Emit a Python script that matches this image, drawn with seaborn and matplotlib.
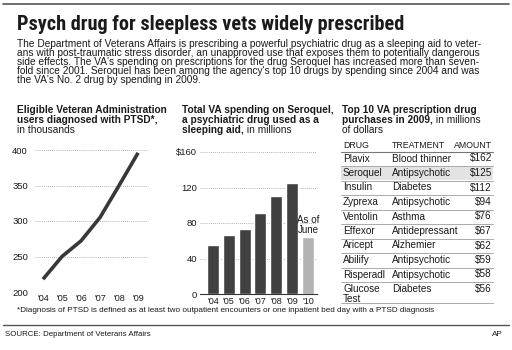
import matplotlib
matplotlib.use("Agg")
import matplotlib.pyplot as plt
import seaborn as sns
import pandas as pd
from matplotlib.lines import Line2D
from matplotlib.patches import Rectangle
from matplotlib import font_manager

# ---------------- data ----------------
line_years = ["'04", "'05", "'06", "'07", "'08", "'09"]
ptsd_thousands = [218, 250, 272, 305, 350, 396]

bar_years = ["'04", "'05", "'06", "'07", "'08", "'09", "'10"]
seroquel_spend = [55, 67, 73, 91, 110, 125, 64]

drugs = ["Plavix", "Seroquel", "Insulin", "Zyprexa", "Ventolin", "Effexor",
         "Aricept", "Abilify", "Risperadl", "Glucose\nTest"]
treatments = ["Blood thinner", "Antipsychotic", "Diabetes", "Antipsychotic", "Asthma",
              "Antidepressant", "Alzhemier", "Antipsychotic", "Antipsychotic", "Diabetes"]
amounts = ["$162", "$125", "$112", "$94", "$76", "$67", "$62", "$59", "$58", "$56"]

title = "Psych drug for sleepless vets widely prescribed"
body = ["The Department of Veterans Affairs is prescribing a powerful psychiatric drug as a sleeping aid to veter-",
        "ans with post-traumatic stress disorder, an unapproved use that exposes them to potentially dangerous",
        "side effects. The VA's spending on prescriptions for the drug Seroquel has increased more than seven-",
        "fold since 2001. Seroquel has been among the agency's top 10 drugs by spending since 2004 and was",
        "the VA's No. 2 drug by spending in 2009."]
footnote = "*Diagnosis of PTSD is defined as at least two outpatient encounters or one inpatient bed day with a PTSD diagnosis"
source = "SOURCE: Department of Veterans Affairs"

sns.set_theme(style="white")
names = {f.name for f in font_manager.fontManager.ttflist}
BASE = "Liberation Sans" if "Liberation Sans" in names else "DejaVu Sans"
NARROW = BASE
for cand in ["Liberation Sans Narrow", "Roboto Condensed", "Open Sans Condensed",
             "DejaVu Sans Condensed", "Noto Sans Condensed"]:
    if cand in names:
        NARROW = cand
        break
plt.rcParams['font.family'] = [BASE, 'DejaVu Sans']

W, H = 512, 350
fig = plt.figure(figsize=(W / 100, H / 100), dpi=100)
fig.patch.set_facecolor("white")
renderer = fig.canvas.get_renderer()

def pax(x0, y0, x1, y1):
    return fig.add_axes([x0 / W, 1 - y1 / H, (x1 - x0) / W, (y1 - y0) / H])

ov = fig.add_axes([0, 0, 1, 1], zorder=-1)
ov.set_xlim(0, W)
ov.set_ylim(H, 0)
ov.axis("off")

DARK = "#1a1a1a"

def width_px(t):
    return t.get_window_extent(renderer=renderer).width

def fit_size(s, target_w, size, **kw):
    probe = ov.text(0, 0, s, fontsize=size, **kw)
    w = width_px(probe)
    probe.remove()
    return size * target_w / w if w > 0 else size

# header
ov.add_line(Line2D([3, 509], [4, 4], color="#555555", lw=1.2))
ts = fit_size(title, 389, 15.5, fontweight="bold", family=[NARROW, BASE])
ov.text(17, 25, title, fontsize=ts, fontweight="bold", family=[NARROW, BASE],
        va="center", ha="left", color=DARK)
bs = fit_size(body[0], 464, 7.2)
for i, ln in enumerate(body):
    ov.text(17, 44 + i * 9, ln, fontsize=bs, va="center", ha="left", color=DARK)

def mixed(x, y, parts, size=7.25):
    for s, bold in parts:
        t = ov.text(x, y, s, fontsize=size, fontweight="bold" if bold else "normal",
                    va="center", ha="left", color=DARK)
        x += width_px(t)

mixed(17, 110, [("Eligible Veteran Administration", True)])
mixed(17, 120, [("users diagnosed with PTSD*,", True)])
mixed(17, 130, [("in thousands", False)])
mixed(182, 110, [("Total VA spending on Seroquel,", True)])
mixed(182, 120, [("a psychiatric drug used as a", True)])
mixed(182, 130, [("sleeping aid,", True), (" in millions", False)])
mixed(342, 110, [("Top 10 VA prescription drug", True)])
mixed(342, 120, [("purchases in 2009,", True), (" in millions", False)])
mixed(342, 130, [("of dollars", False)])

# ---------------- line chart ----------------
ax1 = pax(35, 150, 147, 292)
df_line = pd.DataFrame({"year": list(range(len(line_years))), "val": ptsd_thousands})
sns.lineplot(data=df_line, x="year", y="val", ax=ax1, color="#383838", lw=2.6,
             solid_capstyle="butt", clip_on=False)
ax1.set_xlim(-0.42, 5.47)
ax1.set_ylim(200, 400)
ax1.set_yticks([200, 250, 300, 350, 400])
ax1.set_xticks(range(len(line_years)))
ax1.set_xticklabels(line_years)
ax1.set_xlabel("")
ax1.set_ylabel("")
for s in ax1.spines.values():
    s.set_visible(False)
ax1.grid(axis="y", color="#999999", lw=0.6, ls=(0, (1, 1.5)))
ax1.set_axisbelow(True)
ax1.tick_params(axis="y", length=0, pad=5, labelsize=6.8, colors=DARK)
ax1.tick_params(axis="x", length=3, width=0.6, direction="in", color="#888888",
                pad=1.5, labelsize=6.5, labelcolor=DARK)

# ---------------- bar chart ----------------
ax2 = pax(200, 152, 317, 294)
df_bar = pd.DataFrame({"year": bar_years, "val": seroquel_spend})
cols = ["#404040"] * (len(bar_years) - 1) + ["#b3b3b3"]
sns.barplot(data=df_bar, x="year", y="val", hue="year", palette=cols, legend=False,
            ax=ax2, width=0.76, saturation=1)
ax2.set_xlim(-0.82, 6.57)
ax2.set_ylim(0, 160)
ax2.set_yticks([0, 40, 80, 120, 160])
ax2.set_yticklabels(["0", "40", "80", "120", "$160"])
ax2.set_xlabel("")
ax2.set_ylabel("")
for k, s in ax2.spines.items():
    s.set_visible(k == "bottom")
ax2.spines["bottom"].set_color("#333333")
ax2.spines["bottom"].set_linewidth(0.8)
ax2.grid(axis="y", color="#999999", lw=0.6, ls=(0, (1, 1.5)))
ax2.set_axisbelow(True)
ax2.tick_params(axis="y", length=0, pad=2, labelsize=6.8, colors=DARK)
ax2.tick_params(axis="x", length=0, pad=2, labelsize=6.5, colors=DARK)
ax2.text(6, seroquel_spend[-1] + 3, "As of\nJune", ha="center", va="bottom",
         fontsize=7.0, color=DARK, linespacing=1.0)

# ---------------- table ----------------
ov.text(343, 146, "DRUG", fontsize=6.3, va="center", color=DARK)
ov.text(392, 146, "TREATMENT", fontsize=6.3, va="center", color=DARK)
ov.text(492, 146, "AMOUNT", fontsize=6.3, va="center", ha="right", color=DARK)
ov.add_line(Line2D([341, 493], [151.5, 151.5], color="#777777", lw=0.8))
row_h = 14.5
y0 = 151.5
for i, (d, t, a) in enumerate(zip(drugs, treatments, amounts)):
    top = y0 + i * row_h
    h = row_h if i < len(drugs) - 1 else 303 - top
    if d == "Seroquel":
        ov.add_patch(Rectangle((341, top + 0.6), 152, h - 1.2, color="#e3e3e3", lw=0))
    yc = top + 7
    for j, part in enumerate(d.split("\n")):
        ov.text(343, yc + 10 * j, part, fontsize=7.2, va="center", color=DARK)
    ov.text(392, yc, t, fontsize=7.2, va="center", color=DARK)
    ov.text(492, yc, a, fontsize=7.2, va="center", ha="right", color=DARK)
    ov.add_line(Line2D([341, 493], [top + h, top + h], color="#aaaaaa", lw=0.7))

# ---------------- footer ----------------
ov.text(17, 311, footnote, fontsize=5.9, va="center", color=DARK)
ov.add_line(Line2D([3, 509], [325, 325], color="#555555", lw=1.0))
ov.text(5, 334, source, fontsize=5.7, va="center", color=DARK)
ov.text(503, 334, "AP", fontsize=5.9, va="center", ha="right", color=DARK)

fig.savefig("out.png", dpi=100, facecolor="white")
